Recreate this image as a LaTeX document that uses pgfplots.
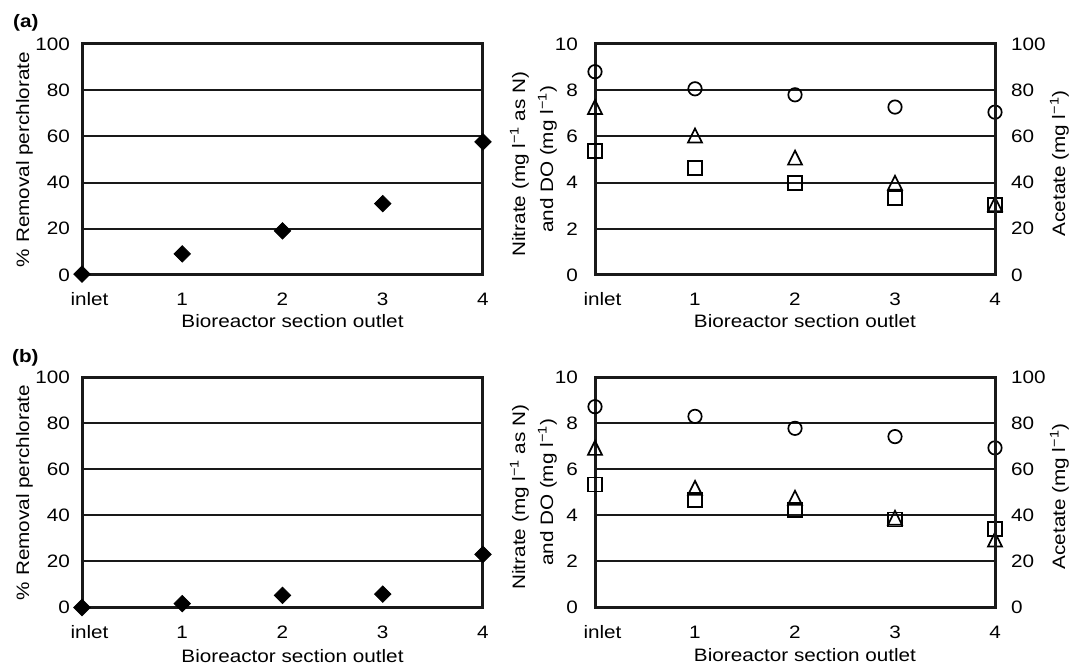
\documentclass[border=0pt]{standalone}
\usepackage{fontspec}
\setmainfont{Liberation Sans}[FakeStretch=1.15]
\usepackage{pgfplots}
\pgfplotsset{compat=1.18}
\newcommand\fs{\fontsize{18}{21}\selectfont}
\pgfdeclareplotmark{dia}{%
  \pgfpathmoveto{\pgfqpoint{0pt}{\pgfplotmarksize}}%
  \pgfpathlineto{\pgfqpoint{\pgfplotmarksize}{0pt}}%
  \pgfpathlineto{\pgfqpoint{0pt}{-\pgfplotmarksize}}%
  \pgfpathlineto{\pgfqpoint{-\pgfplotmarksize}{0pt}}%
  \pgfpathclose\pgfusepathqfillstroke}
\pgfdeclareplotmark{tri}{%
  \pgfpathmoveto{\pgfqpoint{0pt}{\pgfplotmarksize}}%
  \pgfpathlineto{\pgfqpoint{\pgfplotmarksize}{-\pgfplotmarksize}}%
  \pgfpathlineto{\pgfqpoint{-\pgfplotmarksize}{-\pgfplotmarksize}}%
  \pgfpathclose\pgfusepathqstroke}
\pgfplotsset{
  base/.style={
    scale only axis, anchor=south west, clip=false,
    xmin=0, xmax=4, xtick={0,1,2,3,4},
    xticklabels={{\hspace*{15pt}inlet},1,2,3,4},
    ymajorgrids, major grid style={line width=2pt, black!90},
    axis line style={line width=3pt, black!90},
    major tick length=0pt, tick style={draw=none},
    /pgf/number format/assume math mode=true,
    tick label style={font=\fs},
    label style={font=\fs},
    xticklabel style={anchor=base, yshift=-31pt},
    xlabel={Bioreactor section outlet},
    xlabel style={at={(axis description cs:0.525,0)}, anchor=base, yshift=-53pt},
  },
  leftp/.style={base, width=401pt, height=231pt, ymin=0, ymax=100, ytick={0,20,...,100},
    yticklabel style={inner sep=0pt, anchor=east, xshift=-12pt}},
  rightp/.style={base, width=400pt, height=231pt, ymin=0, ymax=10, ytick={0,2,...,10},
    yticklabel style={inner sep=0pt, anchor=east, xshift=-17pt}},
  acet/.style={scale only axis, anchor=south west, width=400pt, height=231pt,
    xmin=0, xmax=4, ymin=0, ymax=100, ytick={0,20,...,100},
    axis y line*=right, axis x line=none,
    axis line style={line width=3pt, black!90},
    major tick length=0pt, tick style={draw=none},
    /pgf/number format/assume math mode=true,
    tick label style={font=\fs},
    yticklabel style={inner sep=0pt, anchor=west, xshift=16pt}},
  dmark/.style={only marks, mark=dia, mark size=8.2pt, mark options={fill=black, draw=black, line width=0.8pt}},
  cmark/.style={only marks, mark=o, mark size=6.7pt, mark options={line width=1.7pt}},
  smark/.style={only marks, mark=square, mark size=7pt, mark options={line width=1.7pt}},
  tmark/.style={only marks, mark=tri, mark size=7pt, mark options={line width=1.7pt}},
}
\begin{document}
\begin{tikzpicture}
\path[use as bounding box] (0,0) rectangle (1069pt,669pt);
\node[anchor=base west, inner sep=0pt, font=\fs\bfseries] at (13pt,641pt) {(a)};
\node[anchor=base west, inner sep=0pt, font=\fs\bfseries] at (12pt,306pt) {(b)};
% (a) left
\begin{axis}[leftp, at={(82pt,394pt)}]
\addplot[dmark] coordinates {(0,0.4) (1,9.1) (2,19.1) (3,30.9) (4,57.6)};
\node[rotate=90, anchor=base, inner sep=0pt, font=\fs] at (axis description cs:-0.132,0.5) {\% Removal perchlorate};
\end{axis}
% (a) right
\begin{axis}[rightp, at={(595pt,394pt)}]
\addplot[smark] coordinates {(0,5.37) (1,4.63) (2,3.99) (3,3.34) (4,3.02)};
\addplot[tmark] coordinates {(0,7.27) (1,6.04) (2,5.08) (3,3.99) (4,3.06)};
\addplot[cmark] coordinates {(0,8.80) (1,8.06) (2,7.80) (3,7.27) (4,7.05)};
\node[rotate=90, anchor=base, inner sep=0pt, font=\fs] at (axis description cs:-0.175,0.48) {Nitrate (mg l\textsuperscript{−1} as N)};
\node[rotate=90, anchor=base, inner sep=0pt, font=\fs] at (axis description cs:-0.105,0.5) {and DO (mg l\textsuperscript{−1})};
\node[rotate=90, anchor=base, inner sep=0pt, font=\fs] at (axis description cs:1.175,0.483) {Acetate (mg l\textsuperscript{−1})};
\end{axis}
\begin{axis}[acet, at={(595pt,394pt)}]
\addplot[draw=none] coordinates {(0,0) (4,100)};
\end{axis}
% (b) left
\begin{axis}[leftp, at={(82pt,61.5pt)}, height=230pt, xlabel style={yshift=-2pt}]
\addplot[dmark] coordinates {(0,0) (1,1.7) (2,5.3) (3,5.8) (4,23.1)};
\node[rotate=90, anchor=base, inner sep=0pt, font=\fs] at (axis description cs:-0.132,0.5) {\% Removal perchlorate};
\end{axis}
% (b) right
\begin{axis}[rightp, at={(595pt,61.5pt)}, height=230pt, xlabel style={yshift=-1.5pt}]
\addplot[smark] coordinates {(0,5.35) (1,4.68) (2,4.25) (3,3.83) (4,3.40)};
\addplot[tmark] coordinates {(0,6.94) (1,5.20) (2,4.77) (3,3.90) (4,2.96)};
\addplot[cmark] coordinates {(0,8.73) (1,8.31) (2,7.79) (3,7.43) (4,6.94)};
\node[rotate=90, anchor=base, inner sep=0pt, font=\fs] at (axis description cs:-0.175,0.48) {Nitrate (mg l\textsuperscript{−1} as N)};
\node[rotate=90, anchor=base, inner sep=0pt, font=\fs] at (axis description cs:-0.105,0.5) {and DO (mg l\textsuperscript{−1})};
\node[rotate=90, anchor=base, inner sep=0pt, font=\fs] at (axis description cs:1.175,0.483) {Acetate (mg l\textsuperscript{−1})};
\end{axis}
\begin{axis}[acet, at={(595pt,61.5pt)}, height=230pt]
\addplot[draw=none] coordinates {(0,0) (4,100)};
\end{axis}
\end{tikzpicture}
\end{document}
